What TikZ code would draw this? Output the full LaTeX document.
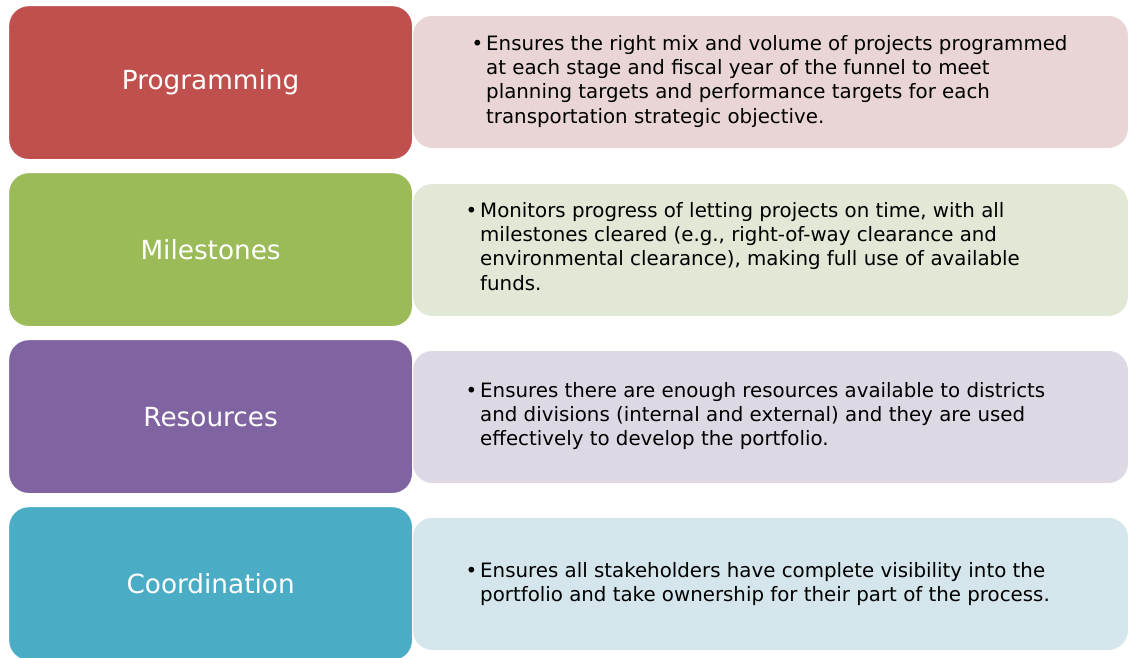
\documentclass[tikz,border=0pt]{standalone}
\usepackage{fontspec}
\setmainfont{DejaVu Sans}
\definecolor{cRed}{HTML}{C0504D}
\definecolor{cGreen}{HTML}{9BBB59}
\definecolor{cPurple}{HTML}{8064A2}
\definecolor{cTeal}{HTML}{4BACC6}
\definecolor{lRed}{HTML}{E9D5D5}
\definecolor{lGreen}{HTML}{E1E8D6}
\definecolor{lPurple}{HTML}{DED8E4}
\definecolor{lTeal}{HTML}{D4E5EB}
\tikzset{
  headbox/.style={draw=white, line width=1.2pt, rounded corners=20pt, minimum width=404pt, minimum height=154pt,
    text=white, font=\fontsize{26.3}{30}\selectfont, inner sep=0pt},
  descbox/.style={draw=white, line width=0.8pt, rounded corners=20pt, minimum width=716pt, minimum height=133pt, inner sep=0pt},
  desctext/.style={anchor=north west, align=left, inner sep=0pt, font=\fontsize{19.8}{24.3}\selectfont, text=black},
}
\newcommand{\bul}{\makebox[0pt][r]{\textbullet\hspace{3pt}}}
\begin{document}
\begin{tikzpicture}[x=1pt,y=-1pt]
\useasboundingbox[fill=white] (0,0) rectangle (1130,657);
% description boxes (behind)
\node[descbox, fill=lRed, anchor=north west] (d1) at (412,15) {};
\node[descbox, fill=lGreen, anchor=north west] (d2) at (412,183) {};
\node[descbox, fill=lPurple, anchor=north west] (d3) at (412,350) {};
\node[descbox, fill=lTeal, anchor=north west] (d4) at (412,517) {};
% heading boxes
\node[headbox, fill=cRed, anchor=north west] (h1) at (8,5) {Programming};
\node[headbox, fill=cGreen, anchor=north west] (h2) at (8,172) {Milestones};
\node[headbox, fill=cPurple, anchor=north west] (h3) at (8,339) {Resources};
\node[headbox, fill=cTeal, anchor=north west] (h4) at (8,506) {Coordination};
% texts
\node[desctext] (t1) at (486,35) {\bul Ensures the right mix and volume of projects programmed\\
at each stage and fiscal year of the funnel to meet\\
planning targets and performance targets for each\\
transportation strategic objective.};
\node[desctext] (t2) at (480,202) {\bul Monitors progress of letting projects on time, with all\\
milestones cleared (e.g., right-of-way clearance and\\
environmental clearance), making full use of available\\
funds.};
\node[desctext] (t3) at (480,382) {\bul Ensures there are enough resources available to districts\\
and divisions (internal and external) and they are used\\
effectively to develop the portfolio.};
\node[desctext] (t4) at (480,562) {\bul Ensures all stakeholders have complete visibility into the\\
portfolio and take ownership for their part of the process.};
\end{tikzpicture}
\end{document}
